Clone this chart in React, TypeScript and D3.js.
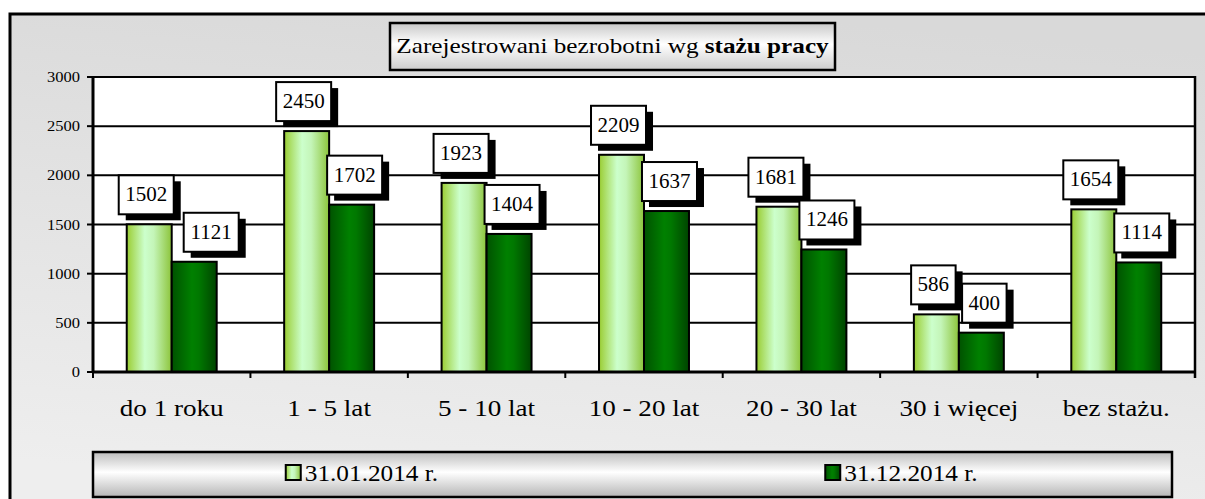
import React, {useEffect, useRef} from 'react';
import * as d3 from 'd3';

const categories = ['do 1 roku', '1 - 5 lat', '5 - 10 lat', '10 - 20 lat', '20 - 30 lat', '30 i więcej', 'bez stażu.'];
const jan2014 = [1502, 2450, 1923, 2209, 1681, 586, 1654];
const dec2014 = [1121, 1702, 1404, 1637, 1246, 400, 1114];
const seriesNames = ['31.01.2014 r.', '31.12.2014 r.'];
const yTicks = [0, 500, 1000, 1500, 2000, 2500, 3000];
const titleText = 'Zarejestrowani bezrobotni wg ';
const titleBold = 'stażu pracy';

const W = 1205;
const H = 499;

const App: React.FC = () => {
  const ref = useRef<SVGSVGElement>(null);

  useEffect(() => {
    const svg = d3.select(ref.current!);
    svg.selectAll('*').remove();

    const defs = svg.append('defs');
    const grad = (id: string, stops: [number, string][], x1 = 0, y1 = 0, x2 = 1, y2 = 0) => {
      const g = defs.append('linearGradient').attr('id', id)
      .attr('x1', x1).attr('y1', y1).attr('x2', x2).attr('y2', y2);
      stops.forEach(([o, c]) => g.append('stop').attr('offset', o).attr('stop-color', c));
    };
    grad('bg', [[0, '#d9d9d9'], [1, '#eeeeee']], 0.6, 0, 0.4, 1);
    grad('light', [[0, '#9acd32'], [0.4, '#ccffcc'], [0.6, '#c4f5b8'], [1, '#8cc43a']]);
    grad('dark', [[0, '#005200'], [0.45, '#008000'], [0.6, '#007800'], [1, '#004400']]);
    grad('titleBg', [[0, '#c8c8c8'], [0.45, '#ffffff'], [1, '#cccccc']], 0, 0, 0, 1);
    grad('legendBg', [[0, '#bdbdbd'], [0.45, '#ffffff'], [1, '#b5b5b5']], 0, 0, 0, 1);

    // outer frame: only left and top edges are inside the picture
    svg.append('rect')
    .attr('x', 10).attr('y', 14).attr('width', W - 10).attr('height', H - 14)
    .attr('fill', 'url(#bg)');
    svg.append('path')
    .attr('d', `M10,${H} V14 H${W}`)
    .attr('fill', 'none').attr('stroke', '#000').attr('stroke-width', 3);

    const left = 93, right = 1195, top = 77, bottom = 372;

    const x = d3.scaleBand<string>()
    .domain(categories)
    .range([left, right])
    .paddingInner(0.4286)
    .paddingOuter(0.2143);
    const xSub = d3.scaleBand<number>().domain([0, 1]).range([0, x.bandwidth()]);
    const y = d3.scaleLinear().domain([0, 3000]).range([bottom, top]);

    // plot area
    svg.append('rect')
    .attr('x', left).attr('y', top).attr('width', right - left).attr('height', bottom - top)
    .attr('fill', '#fff');

    svg.append('g')
    .selectAll('line')
    .data(yTicks.filter(t => t > 0))
    .join('line')
    .attr('x1', left).attr('x2', right)
    .attr('y1', d => y(d)).attr('y2', d => y(d))
    .attr('stroke', '#000').attr('stroke-width', 2);

    svg.append('line')
    .attr('x1', right).attr('x2', right).attr('y1', top - 1).attr('y2', bottom + 6)
    .attr('stroke', '#000').attr('stroke-width', 2.5);

    // y axis ticks and labels
    const yAxis = svg.append('g');
    yAxis.selectAll('line')
    .data(yTicks)
    .join('line')
    .attr('x1', left - 6).attr('x2', left)
    .attr('y1', d => y(d)).attr('y2', d => y(d))
    .attr('stroke', '#000').attr('stroke-width', 2);
    yAxis.selectAll('text')
    .data(yTicks)
    .join('text')
    .attr('transform', d => `translate(80,${y(d) + 5}) scale(1.1,1)`)
    .attr('text-anchor', 'end')
    .attr('font-size', 15)
    .text(d => d);

    // bars
    const series = [jan2014, dec2014];
    const fills = ['url(#light)', 'url(#dark)'];
    series.forEach((vals, s) => {
      svg.append('g')
      .selectAll('rect')
      .data(vals)
      .join('rect')
      .attr('x', (_, i) => x(categories[i])! + xSub(s)!)
      .attr('y', d => y(d))
      .attr('width', xSub.bandwidth())
      .attr('height', d => bottom - y(d))
      .attr('fill', fills[s])
      .attr('stroke', '#000').attr('stroke-width', 2);
    });

    // axes lines
    svg.append('line')
    .attr('x1', left).attr('x2', left).attr('y1', top - 1).attr('y2', bottom + 1)
    .attr('stroke', '#000').attr('stroke-width', 3);
    svg.append('line')
    .attr('x1', left).attr('x2', right + 1).attr('y1', bottom).attr('y2', bottom)
    .attr('stroke', '#000').attr('stroke-width', 3);
    svg.append('g')
    .selectAll('line')
    .data(d3.range(categories.length + 1))
    .join('line')
    .attr('x1', i => left + i * x.step()).attr('x2', i => left + i * x.step())
    .attr('y1', bottom).attr('y2', bottom + 6)
    .attr('stroke', '#000').attr('stroke-width', 2);

    // x labels
    svg.append('g')
    .selectAll('text')
    .data(categories)
    .join('text')
    .attr('transform', d => `translate(${x(d)! + x.bandwidth() / 2},416) scale(1.13,1)`)
    .attr('text-anchor', 'middle')
    .attr('font-size', 24)
    .text(d => d);

    // data labels (box + shadow)
    const nudge = (s: number, i: number) => (s === 1 && i === 0 ? 14 : 0);
    series.forEach((vals, s) => {
      const g = svg.append('g')
      .selectAll('g')
      .data(vals)
      .join('g')
      .attr('transform', (d, i) => {
        const cx = x(categories[i])! + xSub(s)! + xSub.bandwidth() / 2 + (s === 0 ? -3 : 3) + nudge(s, i);
        return `translate(${cx},${y(d) - 10})`;
      });
      const bw = (d: number) => String(d).length * 10.5 + 13;
      g.append('rect')
      .attr('x', d => -bw(d) / 2 + 7).attr('y', -39 + 6)
      .attr('width', bw).attr('height', 39)
      .attr('fill', '#000');
      g.append('rect')
      .attr('x', d => -bw(d) / 2).attr('y', -39)
      .attr('width', bw).attr('height', 39)
      .attr('fill', '#fff').attr('stroke', '#000').attr('stroke-width', 2);
      g.append('text')
      .attr('transform', 'translate(0,-13) scale(1.05,1)')
      .attr('text-anchor', 'middle')
      .attr('font-size', 20)
      .text(d => d);
    });

    // title
    svg.append('rect')
    .attr('x', 390).attr('y', 23).attr('width', 445).attr('height', 47)
    .attr('fill', 'url(#titleBg)').attr('stroke', '#000').attr('stroke-width', 2.5);
    const title = svg.append('text')
    .attr('transform', 'translate(612.5,53) scale(1.2,1)')
    .attr('text-anchor', 'middle')
    .attr('font-size', 21);
    title.append('tspan').text(titleText);
    title.append('tspan').attr('font-weight', 'bold').text(titleBold);

    // legend
    const lx0 = 93, lx1 = 1172;
    svg.append('rect')
    .attr('x', lx0).attr('y', 452).attr('width', lx1 - lx0).attr('height', 45)
    .attr('fill', 'url(#legendBg)').attr('stroke', '#000').attr('stroke-width', 2.5);
    const legendX = d3.scaleBand<number>().domain([0, 1]).range([lx0, lx1]);
    const items = svg.append('g')
    .selectAll('g')
    .data(seriesNames)
    .join('g')
    .attr('transform', (_, i) => `translate(${legendX(i)! + legendX.bandwidth() / 2 - 77},0)`);
    items.append('rect')
    .attr('x', 0).attr('y', 465).attr('width', 15).attr('height', 15)
    .attr('fill', (_, i) => fills[i]).attr('stroke', '#000').attr('stroke-width', 2);
    items.append('text')
    .attr('transform', 'translate(19,481) scale(1.1,1)')
    .attr('font-size', 23)
    .text(d => d);
  }, []);

  return (
    <div style={{position: 'absolute', left: 0, top: 0}}>
      <svg ref={ref} width={W} height={H}
           style={{display: 'block', background: '#fff', fontFamily: "'Liberation Serif', serif"}}/>
    </div>
  );
};

export default App;
